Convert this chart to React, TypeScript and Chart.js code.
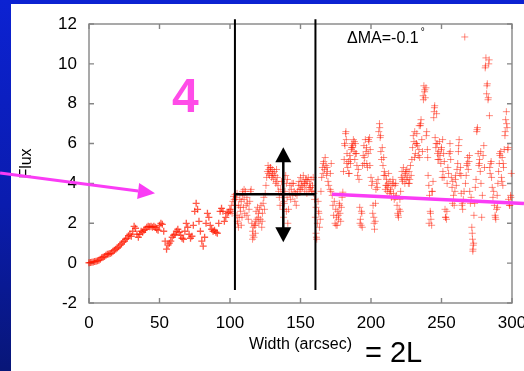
import React, { useEffect, useRef } from "react";
import { Chart, registerables } from "chart.js";

Chart.register(...registerables);

// ---- data ----
const rampWidth = [
  0, 1, 2, 3, 4, 5, 6, 7, 8, 9, 10, 11, 12, 13, 14, 15, 16, 17, 18, 19, 20,
  21, 22, 23, 24, 25, 26, 27, 28, 29, 30, 31, 32, 33, 34, 35, 36, 37, 38, 39, 40,
  41, 42, 43, 44, 45, 46, 47, 48, 49, 50, 51, 52, 53, 54, 55, 56, 57, 58, 59, 60,
  61, 62, 63, 64, 65, 66, 67, 68, 69, 70, 71, 72, 73, 74, 75, 76, 77, 78, 79, 80,
  81, 82, 83, 84, 85, 86, 87, 88, 89, 90, 91, 92, 93, 94, 95, 96, 97, 98, 99, 100,
];
const rampFlux = [
  0.02, 0.03, 0.05, 0.06, 0.08, 0.1, 0.12, 0.15, 0.2, 0.27, 0.3,
  0.33, 0.4, 0.45, 0.46, 0.48, 0.52, 0.6, 0.65, 0.7, 0.76,
  0.82, 0.9, 0.97, 1.05, 1.1, 1.2, 1.25, 1.38, 1.45, 1.35,
  1.6, 1.85, 1.75, 1.45, 1.3, 1.45, 1.6, 1.55, 1.65, 1.7,
  1.8, 1.85, 1.82, 1.85, 1.8, 1.85, 1.8, 1.7, 1.65, 1.9,
  2.0, 1.95, 1.6, 1.1, 0.7, 0.9, 1.0, 1.1, 1.3, 1.4,
  1.45, 1.6, 1.7, 1.55, 1.4, 1.25, 1.2, 1.6, 2.0, 1.8,
  1.45, 1.25, 1.35, 1.9, 2.6, 3.0, 2.7, 2.1, 1.6, 1.1,
  0.85, 1.3, 2.0, 2.5, 2.3, 1.9, 1.7, 1.6, 1.65, 1.55,
  1.5, 2.0, 2.6, 2.75, 2.6, 2.1, 2.3, 2.5, 2.55, 2.7,
];

const boxWidth = [
  100.5, 101, 101.5, 102, 102.5, 103, 103.5, 104, 104.5, 105, 105, 105.5, 106, 106,
  106.5, 107, 107.5, 108, 108, 108.5, 109, 109.5, 110, 110, 110.5, 111, 111.5, 112,
  112, 112.5, 113, 113.5, 114, 114.5, 115, 115.5, 116, 116, 116.5, 117, 117.5, 118,
  118, 118.5, 119, 119.5, 120, 120.5, 121, 121.5, 122, 122.5, 123, 123.5, 124, 124.5,
  125, 125.5, 126, 126.5, 127, 127.5, 128, 128.5, 129, 129.5, 130, 130.5, 131, 131.5,
  132, 132.5, 133, 133.5, 134, 134.5, 135, 135.5, 136, 136.5, 137, 137.5, 138, 138.5,
  139, 139.5, 140, 140, 140.5, 141, 141.5, 142, 142.5, 143, 143.5, 144, 144.5, 145,
  145.5, 146, 146.5, 147, 147.5, 148, 148.5, 149, 149.5, 150, 150.5, 151, 151.5, 152,
  152.5, 153, 153.5, 154, 154.5, 155, 155.5, 156, 156.5, 157, 157.5, 158, 158.5, 159,
  159.5, 160, 160.5, 161, 161, 161.5, 162, 162.5, 163, 163.5, 164, 164.5, 165, 165.5,
  166, 166.5, 167, 167.5, 168, 168.5, 169, 169.5, 170, 171, 171.5,
];
const boxFlux = [
  2.6, 2.9, 2.5, 3.1, 3.35, 3.2, 3.45, 2.9, 3.3, 2.4, 3.5, 2.0, 1.8, 2.9,
  2.3, 3.2, 2.6, 1.9, 3.1, 2.3, 3.6, 2.8, 3.7, 3.2, 2.5, 3.6, 2.9, 3.3,
  2.4, 3.0, 2.2, 2.7, 3.1, 3.6, 3.7, 2.0, 1.6, 1.2, 1.8, 1.3, 1.9, 2.1,
  1.5, 2.6, 2.2, 2.8, 2.3, 2.0, 2.7, 2.2, 2.9, 1.8, 2.5, 3.0, 3.3, 2.7,
  3.5, 3.9, 4.3, 4.6, 4.9, 4.7, 4.4, 4.8, 4.6, 4.3, 4.7, 4.5, 4.2, 4.6,
  4.4, 4.0, 4.7, 4.3, 3.9, 3.6, 3.3, 2.9, 3.7, 4.1, 3.4, 2.7, 2.3, 3.0,
  3.6, 4.4, 4.0, 2.6, 3.3, 2.0, 2.7, 3.5, 3.9, 3.2, 3.7, 4.0, 3.4, 4.0,
  3.6, 3.1, 3.5, 2.9, 3.4, 3.6, 3.9, 4.1, 3.7, 4.3, 3.9, 4.1, 3.8, 4.4,
  4.0, 3.6, 4.2, 3.9, 3.5, 4.1, 4.3, 3.7, 4.0, 3.8, 4.2, 3.6, 3.9, 4.3,
  3.5, 3.2, 2.3, 1.5, 2.8, 1.2, 2.0, 3.1, 2.5, 1.8, 2.2, 3.6, 4.3, 4.8,
  4.5, 5.1, 4.7, 5.3, 4.9, 4.4, 4.6, 4.1, 3.9, 3.7, 3.6,
];

const outerWidth = [
  172.5, 173, 173.5, 174, 174.5, 175, 175.5, 176, 176.5, 177, 177.5, 178, 178.5, 179,
  179.5, 180, 180.5, 181, 181.5, 182, 182.5, 183, 183.5, 184, 184.5, 185, 185.5, 186,
  186.5, 187, 187.5, 188, 188.5, 189, 189.5, 190, 190.5, 191, 191.5, 192, 192.5, 193,
  193.5, 194, 194.5, 195, 195.5, 196, 196.5, 197, 197.5, 198, 198.5, 199, 199.5, 200,
  200.5, 201, 201.5, 202, 202.5, 203, 203.5, 204, 204.5, 205, 205.5, 206, 206.5, 207,
  207.5, 208, 208.5, 209, 209.5, 210, 210.5, 211, 211.5, 212, 212.5, 213, 213.5, 214,
  214.5, 215, 215.5, 216, 216.5, 217, 217.5, 218, 218.5, 219, 219.5, 220, 220.5, 221,
  221.5, 222, 222.5, 223, 223.5, 224, 224.5, 225, 225.5, 226, 226.5, 227, 227.5, 228,
  228.5, 229, 229.5, 230, 230.5, 231, 231.5, 232, 232.5, 233, 233.5, 234, 234.5, 235,
  235.5, 236, 236.5, 237, 237.5, 238, 238.5, 239, 239.5, 240, 240.5, 241, 241.5, 242,
  242.5, 243, 243.5, 244, 244.5, 245, 245.5, 246, 246.5, 247, 247.5, 248, 248.5, 249,
  249.5, 250, 250.5, 251, 251.5, 252, 252.5, 253, 253.5, 254, 254.5, 255, 255.5, 256,
  256.5, 257, 257.5, 258, 258.5, 259, 259.5, 260, 260.5, 261, 261.5, 262, 262.5, 263,
  263.5, 264, 264.5, 265, 265.5, 266, 266.5, 267, 267.5, 268, 268.5, 269, 269.5, 270,
  270.5, 271, 271.5, 272, 272.2, 272.5, 273, 273.5, 274, 274.5, 275, 275.5, 276, 276.5,
  277, 277.5, 278, 278.5, 279, 279.5, 280, 280.5, 281, 281.5, 282, 282.5, 283, 283.5,
  284, 284.5, 285, 285.5, 286, 286.5, 287, 287.5, 288, 288.5, 289, 289.5, 290, 290.5,
  291, 291.5, 292, 292.5, 293, 293.5, 294, 294.5, 295, 295.5, 296, 296.5, 297, 297.5,
  298, 298.5, 299, 299.5,
];
const outerFlux = [
  3.4, 2.9, 2.4, 3.1, 2.0, 2.7, 2.3, 1.9, 2.6, 2.2, 3.0, 2.5, 2.1, 2.8,
  3.3, 3.56, 4.6, 5.2, 5.9, 6.5, 6.2, 5.5, 4.8, 5.1, 4.5, 5.4, 5.0, 5.7,
  6.0, 5.8, 6.2, 5.6, 5.2, 6.0, 5.5, 4.9, 4.4, 4.7, 4.2, 2.8, 2.2, 1.9,
  2.5, 4.9, 5.4, 5.9, 5.3, 6.2, 5.6, 5.0, 4.8, 5.5, 6.1, 6.3, 5.7, 4.3,
  3.9, 4.1, 2.9, 2.3, 1.7, 2.1, 3.7, 4.0, 3.8, 4.2, 6.6, 7.0, 6.3, 5.6,
  5.2, 5.8, 4.9, 5.3, 4.6, 4.4, 3.9, 4.2, 3.6, 3.8, 4.5, 3.5, 4.1, 3.7,
  3.3, 3.9, 4.2, 3.5, 3.2, 3.9, 4.0, 3.4, 2.9, 2.5, 2.3, 2.7, 3.2, 3.6,
  4.3, 4.6, 4.1, 4.8, 4.4, 4.0, 4.5, 4.2, 4.7, 4.3, 4.0, 4.6, 4.2, 4.9,
  4.4, 5.2, 5.8, 6.4, 6.1, 6.6, 5.5, 6.0, 6.5, 5.9, 5.4, 5.7, 5.3, 6.9,
  7.2, 6.2, 5.6, 8.4, 8.9, 8.6, 8.3, 8.8, 6.6, 5.7, 4.4, 3.9, 3.4, 2.6,
  2.2, 1.9, 3.6, 4.1, 7.3, 7.8, 6.3, 5.8, 7.5, 6.0, 5.2, 5.6, 6.1, 5.4,
  5.0, 5.8, 4.3, 4.6, 5.5, 5.1, 2.7, 2.3, 2.2, 4.0, 4.8, 4.5, 5.5, 6.0,
  5.2, 4.3, 3.8, 4.1, 3.4, 2.9, 3.6, 4.4, 3.9, 4.7, 5.0, 5.6, 6.2, 4.5,
  4.8, 3.5, 2.9, 2.7, 3.2, 3.6, 11.35, 4.0, 4.4, 4.9, 5.3, 4.7, 5.1, 3.6,
  3.0, 3.3, 1.8, 1.2, 0.6, 0.9, 2.4, 3.0, 3.8, 4.2, 6.6, 6.8, 5.5, 4.9,
  5.2, 4.6, 4.0, 2.3, 3.4, 5.4, 5.9, 4.8, 9.8, 10.3, 8.5, 9.0, 8.2, 10.0,
  7.4, 4.5, 5.0, 4.3, 3.8, 3.3, 3.6, 2.9, 2.4, 2.2, 2.7, 3.4, 4.0, 4.6,
  5.0, 5.4, 5.6, 4.3, 5.3, 3.9, 4.8, 5.7, 6.4, 7.2, 7.6, 6.8, 5.7, 3.2,
  3.0, 2.9, 3.4, 4.5,
];

// extra points of the denser vertical clusters
const clusterWidth = [
  105.2, 107.2, 108.8, 116.3, 117.8, 120.2, 122.8, 127.2, 128.8, 130.2, 132.8,
  138.2, 140.8, 150.2, 152.8, 154.2, 156.8, 158.2, 161.3, 162.8, 166.2, 168.8,
  171.2, 171.8, 175.2, 176.8, 177.8, 181.2, 182.2, 182.8, 184.2, 185.2, 186.2,
  187.2, 188.2, 189.2, 192.2, 193.2, 193.8, 195.2, 196.8, 198.2, 199.2, 201.2,
  202.2, 203.2, 206.2, 206.8, 209.2, 210.2, 211.2, 212.2, 213.8, 215.8, 217.2,
  219.2, 220.8, 222.2, 224.8, 227.2, 230.8, 232.2, 234.2, 235.2, 237.2, 238.2,
  239.2, 240.2, 241.2, 242.2, 243.2, 244.8, 245.2, 246.2, 247.2, 248.2, 249.8,
  250.8, 251.8, 252.8, 253.8, 256.2, 257.8, 259.8, 262.2, 263.8, 264.8, 268.2,
  269.8, 271.8, 272.3, 272.8, 275.2, 276.8, 277.8, 281.2, 282.2, 283.2, 283.8,
  284.2, 285.2, 288.2, 289.8, 291.2, 292.8, 293.8, 295.2, 296.2, 297.2, 298.2,
  299.2,
];
const clusterFlux = [
  2.1, 2.8, 3.4, 1.4, 1.9, 2.5, 2.1, 4.5, 4.8, 4.4, 4.1,
  3.1, 4.2, 3.7, 4.0, 4.2, 3.8, 3.6, 1.3, 2.6, 5.0, 4.8,
  4.5, 5.0, 1.9, 2.4, 2.9, 6.0, 6.6, 5.0, 4.5, 5.2, 5.8,
  5.9, 6.1, 5.5, 2.0, 2.6, 1.8, 5.0, 5.8, 6.2, 4.9, 2.5,
  2.0, 3.0, 6.8, 6.4, 4.4, 3.7, 3.9, 4.0, 3.6, 4.0, 3.3,
  2.4, 2.6, 4.2, 4.6, 4.0, 5.3, 6.0, 6.9, 7.0, 8.2, 8.7,
  6.4, 5.3, 2.0, 2.5, 3.6, 7.6, 7.9, 6.0, 5.5, 5.2, 5.7,
  6.2, 4.3, 2.3, 2.6, 5.6, 3.0, 4.2, 5.9, 4.4, 3.0, 5.0,
  5.4, 1.5, 0.7, 1.0, 6.7, 5.0, 5.6, 9.9, 8.9, 8.3, 10.2,
  4.8, 5.1, 2.3, 2.8, 5.5, 4.1, 5.0, 6.6, 7.0, 5.8, 2.9,
  3.3,
];

const xTickMin = 0;
const xTickMax = 300;
const xTickStep = 50;
const yTickMin = -2;
const yTickMax = 12;
const yTickStep = 2;

// annotation anchors, in data units
const windowLeft = 103.5;
const windowRight = 160.6;
const windowTop = 12.24;
const windowBottom = -1.35;
const meanLevel = 3.46;
const spreadX = 137.8;
const spreadTop = 5.82;
const spreadBottom = 1.05;
const leftArrowFrom = [-63.1, 4.52];
const leftArrowTo = [46.8, 3.51];
const rightLineFrom = [172.3, 3.46];
const rightLineTo = [308.5, 2.99];
const panelLabel = "4";
const panelLabelAt = [68.4, 7.58];
const angleLabel = "ΔMA=-0.1";
const angleLabelAt = [183, 11.04];
const xTitle = "Width (arcsec)";
const yTitle = "Flux";
const extraLabel = "= 2L";

const FONT = "'Liberation Sans', Arial, Helvetica, sans-serif";
const MAGENTA = "#fa3cf5";

function pts(xs: number[], ys: number[]) {
  return xs.map((x, i) => ({ x, y: ys[i] }));
}

export default function App() {
  const ref = useRef<HTMLCanvasElement>(null);

  useEffect(() => {
    if (!ref.current) return;

    const overlay = {
      id: "overlay",
      beforeDatasetsDraw(chart: any) {
        const { ctx, chartArea: a, scales } = chart;
        const xs = scales.x;
        const ys = scales.y;
        ctx.save();
        ctx.strokeStyle = "#858585";
        ctx.lineWidth = 1.4;
        ctx.strokeRect(a.left, a.top, a.right - a.left, a.bottom - a.top);
        ctx.beginPath();
        xs.ticks.forEach((t: any) => {
          const p = xs.getPixelForValue(t.value);
          ctx.moveTo(p, a.bottom);
          ctx.lineTo(p, a.bottom - 5);
          ctx.moveTo(p, a.top);
          ctx.lineTo(p, a.top + 5);
        });
        ys.ticks.forEach((t: any) => {
          const p = ys.getPixelForValue(t.value);
          ctx.moveTo(a.left, p);
          ctx.lineTo(a.left + 5, p);
          ctx.moveTo(a.right, p);
          ctx.lineTo(a.right - 5, p);
        });
        ctx.stroke();
        ctx.restore();
      },
      afterDatasetsDraw(chart: any) {
        const { ctx, scales } = chart;
        const X = (v: number) => scales.x.getPixelForValue(v);
        const Y = (v: number) => scales.y.getPixelForValue(v);
        ctx.save();

        // window lines
        ctx.strokeStyle = "#000";
        ctx.lineWidth = 2;
        ctx.beginPath();
        ctx.moveTo(X(windowLeft), Y(windowTop));
        ctx.lineTo(X(windowLeft), Y(windowBottom));
        ctx.moveTo(X(windowRight), Y(windowTop));
        ctx.lineTo(X(windowRight), Y(windowBottom));
        ctx.stroke();
        ctx.lineWidth = 2.5;
        ctx.beginPath();
        ctx.moveTo(X(windowLeft), Y(meanLevel));
        ctx.lineTo(X(windowRight), Y(meanLevel));
        ctx.stroke();

        // double arrow
        const ax = X(spreadX);
        const at = Y(spreadTop);
        const ab = Y(spreadBottom);
        const head = 15;
        const hw = 8;
        ctx.lineWidth = 2.5;
        ctx.beginPath();
        ctx.moveTo(ax, at + head - 1);
        ctx.lineTo(ax, ab - head + 1);
        ctx.stroke();
        ctx.fillStyle = "#000";
        ctx.beginPath();
        ctx.moveTo(ax, at);
        ctx.lineTo(ax - hw, at + head);
        ctx.lineTo(ax + hw, at + head);
        ctx.closePath();
        ctx.fill();
        ctx.beginPath();
        ctx.moveTo(ax, ab);
        ctx.lineTo(ax - hw, ab - head);
        ctx.lineTo(ax + hw, ab - head);
        ctx.closePath();
        ctx.fill();

        // magenta arrows
        ctx.strokeStyle = MAGENTA;
        ctx.fillStyle = MAGENTA;
        ctx.lineWidth = 3;
        const x0 = X(leftArrowFrom[0]);
        const y0 = Y(leftArrowFrom[1]);
        const x1 = X(leftArrowTo[0]);
        const y1 = Y(leftArrowTo[1]);
        const ang = Math.atan2(y1 - y0, x1 - x0);
        const hl = 17;
        const hh = 8;
        const bx = x1 - hl * Math.cos(ang);
        const by = y1 - hl * Math.sin(ang);
        ctx.beginPath();
        ctx.moveTo(x0, y0);
        ctx.lineTo(bx, by);
        ctx.stroke();
        ctx.beginPath();
        ctx.moveTo(x1, y1);
        ctx.lineTo(bx - hh * Math.sin(ang), by + hh * Math.cos(ang));
        ctx.lineTo(bx + hh * Math.sin(ang), by - hh * Math.cos(ang));
        ctx.closePath();
        ctx.fill();

        ctx.lineWidth = 3.5;
        ctx.beginPath();
        ctx.moveTo(X(rightLineFrom[0]), Y(rightLineFrom[1]));
        ctx.lineTo(X(rightLineTo[0]), Y(rightLineTo[1]));
        ctx.stroke();

        // texts
        ctx.fillStyle = "#ff4ce8";
        ctx.font = `bold 48px ${FONT}`;
        ctx.textAlign = "center";
        ctx.textBaseline = "alphabetic";
        ctx.fillText(panelLabel, X(panelLabelAt[0]), Y(panelLabelAt[1]));

        ctx.fillStyle = "#000";
        ctx.font = `16px ${FONT}`;
        ctx.textAlign = "left";
        const tx = X(angleLabelAt[0]);
        const ty = Y(angleLabelAt[1]);
        ctx.fillText(angleLabel, tx, ty);
        const w = ctx.measureText(angleLabel).width;
        ctx.font = `10px ${FONT}`;
        ctx.fillText("°", tx + w + 2, ty - 8);

        ctx.font = `29px ${FONT}`;
        ctx.fillText(extraLabel, 365, 362);
        ctx.restore();
      },
    };

    const scatterStyle = {
      pointStyle: "cross",
      pointRadius: 3.5,
      pointBorderWidth: 1,
      borderColor: "rgba(255, 25, 0, 0.5)",
      backgroundColor: "rgba(255, 25, 0, 0.5)",
      showLine: false,
      clip: false as any,
    };
    const rampStyle = {
      ...scatterStyle,
      pointBorderWidth: 1.3,
      borderColor: "rgba(255, 25, 0, 0.72)",
      backgroundColor: "rgba(255, 25, 0, 0.72)",
    };

    const chart = new Chart(ref.current, {
      type: "scatter",
      data: {
        datasets: [
          { data: pts(rampWidth, rampFlux), ...rampStyle },
          { data: pts(boxWidth, boxFlux), ...scatterStyle },
          { data: pts(outerWidth, outerFlux), ...scatterStyle },
          { data: pts(clusterWidth, clusterFlux), ...scatterStyle },
        ],
      },
      options: {
        responsive: false,
        animation: false,
        devicePixelRatio: 1,
        layout: { padding: { left: 0, top: 24, right: 12, bottom: 0 } },
        plugins: { legend: { display: false }, tooltip: { enabled: false } },
        scales: {
          x: {
            type: "linear",
            min: xTickMin,
            max: xTickMax,
            ticks: {
              stepSize: xTickStep,
              color: "#000",
              font: { family: FONT, size: 17 },
              padding: 10,
              maxRotation: 0,
            },
            grid: { display: false, drawTicks: false },
            border: { display: false },
            title: {
              display: true,
              text: xTitle,
              color: "#000",
              font: { family: FONT, size: 16 },
              padding: { bottom: 17 },
            },
            afterFit(s: any) {
              s.height = 68;
              s.paddingLeft = 0;
              s.paddingRight = 0;
            },
          },
          y: {
            type: "linear",
            min: yTickMin,
            max: yTickMax,
            ticks: {
              stepSize: yTickStep,
              color: "#000",
              font: { family: FONT, size: 17 },
              padding: 12,
            },
            grid: { display: false, drawTicks: false },
            border: { display: false },
            title: {
              display: true,
              text: yTitle,
              color: "#000",
              font: { family: FONT, size: 16 },
              padding: { top: 17 },
            },
            afterFit(s: any) {
              s.width = 89;
              s.paddingTop = 0;
              s.paddingBottom = 0;
            },
          },
        },
      } as any,
      plugins: [overlay],
    });
    return () => chart.destroy();
  }, []);

  return (
    <div
      style={{
        position: "fixed",
        left: 0,
        top: 0,
        width: 524,
        height: 371,
        overflow: "hidden",
        background: "linear-gradient(180deg, #0c22d2 0%, #0a1cae 55%, #081678 100%)",
      }}
    >
      <div
        style={{
          position: "absolute",
          left: 11,
          top: 4,
          right: 0,
          bottom: 0,
          background: "#fff",
        }}
      />
      <canvas
        ref={ref}
        width={524}
        height={371}
        style={{ position: "absolute", left: 0, top: 0, width: 524, height: 371 }}
      />
    </div>
  );
}
